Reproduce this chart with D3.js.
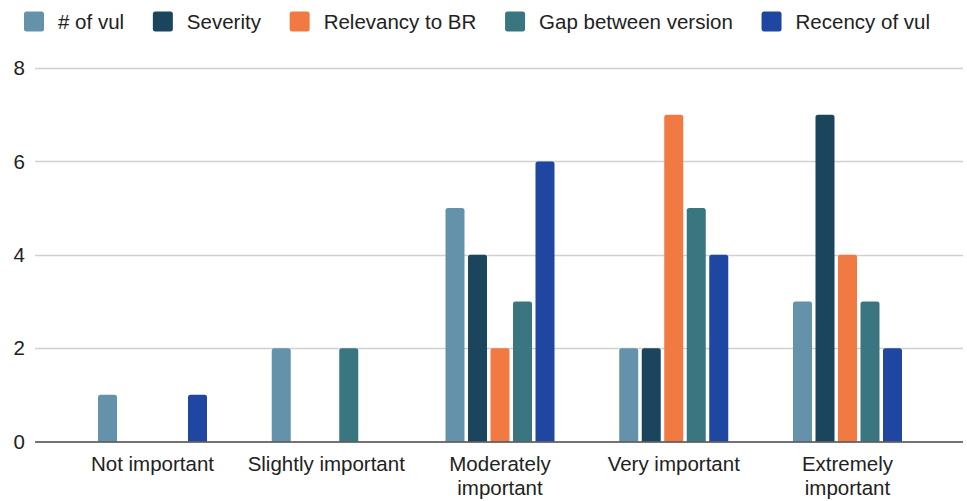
<!DOCTYPE html>
<html>
<head>
<meta charset="utf-8">
<script src="https://cdn.jsdelivr.net/npm/d3@7"></script>
<style>
  html, body { margin: 0; padding: 0; background: #fff; }
  svg { display: block; font-family: "Liberation Sans", Arial, sans-serif; }
</style>
</head>
<body>
<svg id="chart" width="967" height="501"></svg>
<script>
const categories = ["Not important", "Slightly important", "Moderately important", "Very important", "Extremely important"];
const seriesNames = ["# of vul", "Severity", "Relevancy to BR", "Gap between version", "Recency of vul"];
const seriesColors = ["#6592ab", "#1b455c", "#f07a42", "#3a7680", "#1f46a0"];
const numVul     = [1, 2, 5, 2, 3];
const severity   = [0, 0, 4, 2, 7];
const relevancy  = [0, 0, 2, 7, 4];
const gapVersion = [0, 2, 3, 5, 3];
const recency    = [1, 0, 6, 4, 2];
const yTicks = [0, 2, 4, 6, 8];

const seriesValues = [numVul, severity, relevancy, gapVersion, recency];

const svg = d3.select("#chart");
const plot = { left: 35, right: 963, top: 68, bottom: 441.5 };
const fontSize = 20.5;

const x = d3.scaleBand().domain(categories)
  .range([plot.left + 1, plot.right + 1]).paddingInner(0).paddingOuter(0.1705);
const groupW = 112.5;
const xi = d3.scaleBand().domain(seriesNames)
  .range([0, groupW]).paddingInner(0.155).paddingOuter(0.0775);
const y = d3.scaleLinear().domain([0, 8]).range([plot.bottom, plot.top]);

// gridlines
svg.append("g").selectAll("line").data(yTicks.filter(t => t !== 0)).join("line")
  .attr("x1", plot.left).attr("x2", plot.right)
  .attr("y1", d => Math.round(y(d)) + 0.5).attr("y2", d => Math.round(y(d)) + 0.5)
  .attr("stroke", "#d0d0d0").attr("stroke-width", 1.3);

// y tick labels
svg.append("g").selectAll("text").data(yTicks).join("text")
  .attr("x", 25).attr("y", d => y(d))
  .attr("dy", "0.35em")
  .attr("text-anchor", "end")
  .attr("font-size", fontSize).attr("fill", "#222")
  .text(d => d);

// bars
function barPath(x0, w, yTop, yBot, r) {
  const h = yBot - yTop;
  r = Math.min(r, h, w / 2);
  return `M${x0},${yBot} L${x0},${yTop + r} Q${x0},${yTop} ${x0 + r},${yTop} ` +
         `L${x0 + w - r},${yTop} Q${x0 + w},${yTop} ${x0 + w},${yTop + r} L${x0 + w},${yBot} Z`;
}
const barsData = [];
categories.forEach((c, ci) => {
  seriesNames.forEach((s, si) => {
    const v = seriesValues[si][ci];
    if (v > 0) barsData.push({ c, s, v, si });
  });
});
const offset = (x.bandwidth() - groupW) / 2;
svg.append("g").selectAll("path").data(barsData).join("path")
  .attr("d", d => barPath(x(d.c) + offset + xi(d.s), xi.bandwidth(), y(d.v), y(0), 2.5))
  .attr("fill", d => seriesColors[d.si]);

// x axis baseline
svg.append("line")
  .attr("x1", plot.left).attr("x2", plot.right)
  .attr("y1", y(0) + 0.5).attr("y2", y(0) + 0.5)
  .attr("stroke", "#444").attr("stroke-width", 1.3);

// x labels with wrapping
const xl = svg.append("g");
const maxW = x.bandwidth() - 8;
categories.forEach(c => {
  const cx = x(c) + x.bandwidth() / 2;
  const t = xl.append("text")
    .attr("x", cx).attr("y", 471)
    .attr("text-anchor", "middle")
    .attr("font-size", fontSize).attr("fill", "#222")
    .text(c);
  if (t.node().getComputedTextLength() > maxW) {
    const words = c.split(" ");
    const lines = [];
    let cur = [];
    words.forEach(w => {
      t.text(cur.concat([w]).join(" "));
      if (t.node().getComputedTextLength() > maxW && cur.length) {
        lines.push(cur.join(" "));
        cur = [w];
      } else {
        cur.push(w);
      }
    });
    if (cur.length) lines.push(cur.join(" "));
    t.text(null);
    lines.forEach((ln, i) => {
      t.append("tspan").attr("x", cx).attr("dy", i === 0 ? 0 : 23.5).text(ln);
    });
  }
});

// legend
const lg = svg.append("g");
const legendStart = 24, legendEnd = 930;
const texts = [];
seriesNames.forEach((s, i) => {
  const g = lg.append("g");
  g.append("rect").attr("y", 11.5).attr("width", 20).attr("height", 20)
    .attr("rx", 2.5).attr("fill", seriesColors[i]);
  const t = g.append("text").attr("y", 29)
    .attr("font-size", fontSize).attr("fill", "#222").text(s);
  texts.push({ g, tw: t.node().getComputedTextLength() });
});
const used = d3.sum(texts, d => 34 + d.tw);
const gap = (legendEnd - legendStart - used) / (texts.length - 1);
let lx = legendStart;
texts.forEach(d => {
  d.g.attr("transform", `translate(${lx},0)`);
  d.g.select("text").attr("x", 34);
  lx += 34 + d.tw + gap;
});
</script>
</body>
</html>
